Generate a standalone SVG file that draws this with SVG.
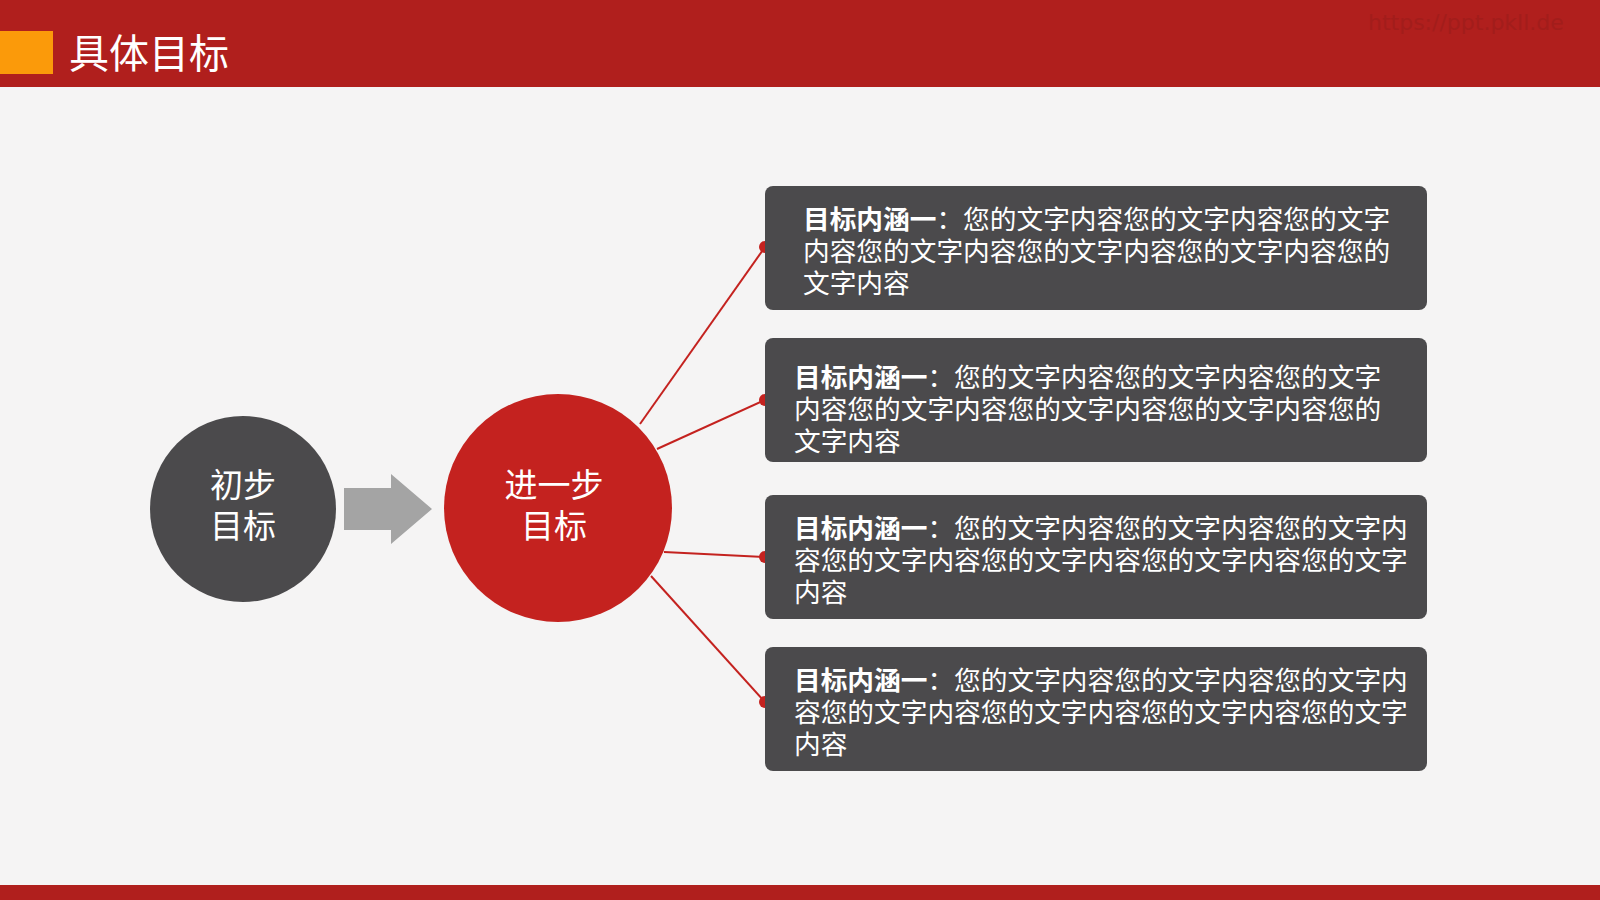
<svg xmlns="http://www.w3.org/2000/svg" width="1600" height="900" viewBox="0 0 1600 900">
<style>
.f{font-family:"Noto Sans CJK SC","Liberation Sans",sans-serif}
.bx{fill:#4b4a4c}
.t{font-size:26.7px;fill:#fff}
.c{font-size:33px;fill:#fff;text-anchor:middle}
.ln{stroke:#c4221f;stroke-width:2;fill:none}
.dot{fill:#c4221f}
</style>
<rect width="1600" height="900" fill="#f5f4f4"/>
<g id="header">
<rect width="1600" height="87" fill="#b01f1d"/>
<rect x="0" y="31" width="53" height="43" fill="#fb9a0a"/>
<text class="f" x="69" y="68" font-size="40" fill="#fff">具体目标</text>
<text x="1368" y="30" font-family="DejaVu Sans,sans-serif" font-size="22" fill="#a21d1b">https://ppt.pkll.de</text>
</g>
<rect y="885" width="1600" height="15" fill="#b01f1d"/>
<g id="connectors">
<line class="ln" x1="640" y1="424" x2="765" y2="247"/>
<line class="ln" x1="657" y1="449" x2="765" y2="400"/>
<line class="ln" x1="664" y1="552" x2="765" y2="557"/>
<line class="ln" x1="651" y1="576" x2="765" y2="702"/>
<circle class="dot" cx="765" cy="247" r="6"/>
<circle class="dot" cx="765" cy="400" r="6"/>
<circle class="dot" cx="765" cy="557" r="6"/>
<circle class="dot" cx="765" cy="702" r="6"/>
<polygon points="344,488 391,488 391,474 432,509 391,544 391,530 344,530" fill="#a4a4a4"/>
</g>
<g id="start">
<circle cx="243" cy="509" r="93" fill="#4b4a4c"/>
<text class="f c" x="243" y="497">初步</text>
<text class="f c" x="243" y="538">目标</text>
</g>
<g id="next">
<circle cx="558" cy="508" r="114" fill="#c4221f"/>
<text class="f c" x="554" y="497">进一步</text>
<text class="f c" x="554" y="538">目标</text>
</g>
<g id="box1">
<rect class="bx" x="765" y="186" width="662" height="124" rx="8"/>
<text class="f t" x="803" y="229"><tspan font-weight="bold">目标内涵一</tspan>：您的文字内容您的文字内容您的文字</text>
<text class="f t" x="803" y="261">内容您的文字内容您的文字内容您的文字内容您的</text>
<text class="f t" x="803" y="293">文字内容</text>
</g>
<g id="box2">
<rect class="bx" x="765" y="338" width="662" height="124" rx="8"/>
<text class="f t" x="794" y="387"><tspan font-weight="bold">目标内涵一</tspan>：您的文字内容您的文字内容您的文字</text>
<text class="f t" x="794" y="419">内容您的文字内容您的文字内容您的文字内容您的</text>
<text class="f t" x="794" y="451">文字内容</text>
</g>
<g id="box3">
<rect class="bx" x="765" y="495" width="662" height="124" rx="8"/>
<text class="f t" x="794" y="538"><tspan font-weight="bold">目标内涵一</tspan>：您的文字内容您的文字内容您的文字内</text>
<text class="f t" x="794" y="570">容您的文字内容您的文字内容您的文字内容您的文字</text>
<text class="f t" x="794" y="602">内容</text>
</g>
<g id="box4">
<rect class="bx" x="765" y="647" width="662" height="124" rx="8"/>
<text class="f t" x="794" y="690"><tspan font-weight="bold">目标内涵一</tspan>：您的文字内容您的文字内容您的文字内</text>
<text class="f t" x="794" y="722">容您的文字内容您的文字内容您的文字内容您的文字</text>
<text class="f t" x="794" y="754">内容</text>
</g>
</svg>
